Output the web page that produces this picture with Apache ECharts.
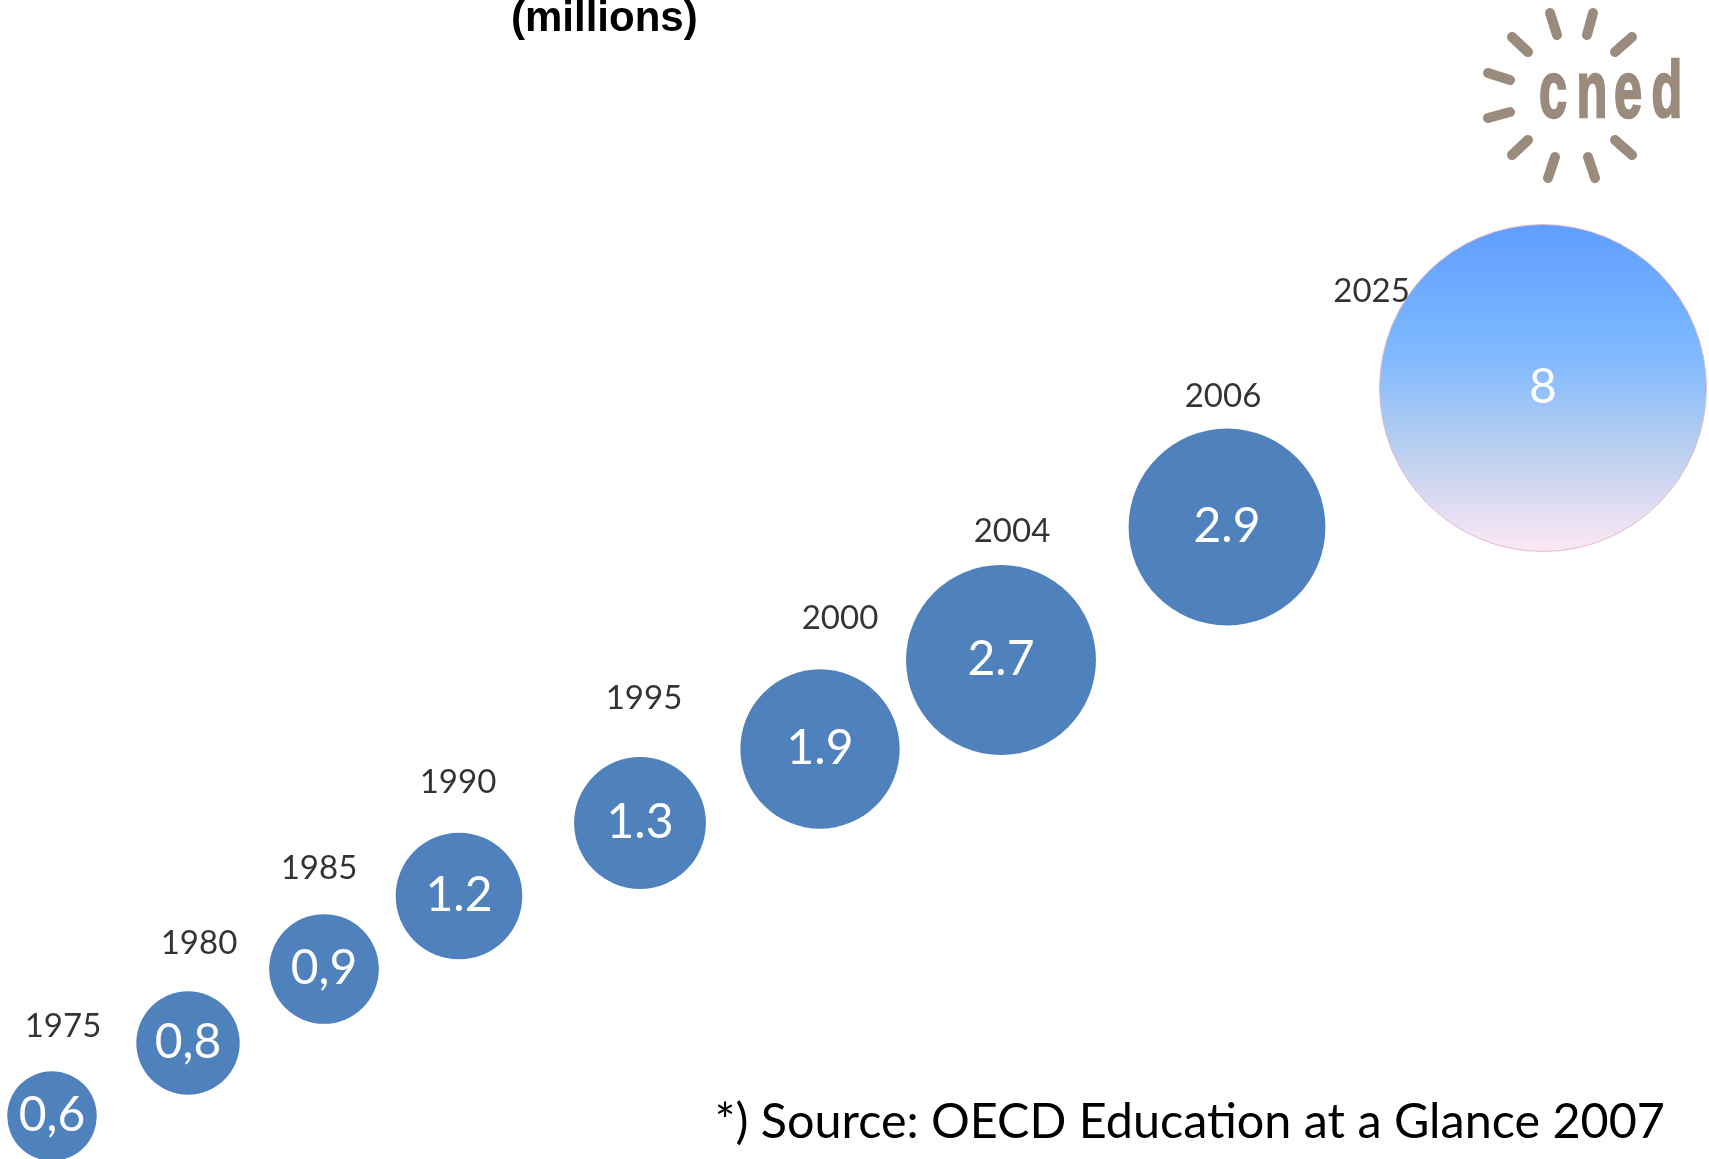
<!DOCTYPE html>
<html>
<head>
<meta charset="utf-8">
<script src="https://cdn.jsdelivr.net/npm/echarts@6/dist/echarts.min.js"></script>
<style>
html, body { margin: 0; padding: 0; background: #fff; }
#chart { width: 1709px; height: 1159px; }
</style>
</head>
<body>
<div id="chart"></div>
<script>
const years = ['1975', '1980', '1985', '1990', '1995', '2000', '2004', '2006', '2025'];
const values = [0.6, 0.8, 0.9, 1.2, 1.3, 1.9, 2.7, 2.9, 8];
const valueLabels = ['0,6', '0,8', '0,9', '1.2', '1.3', '1.9', '2.7', '2.9', '8'];
// staircase layout (axis units = picture pixels)
const stepX = [52, 188, 324, 459, 640, 820, 1001, 1227, 1543];
const stepY = [1116, 1043, 969, 896, 823, 749, 660, 527, 388];
// small nudges of the year captions
const yearShift = [[11, -2], [11, -5], [-5, -3], [-1, -8], [4, -16], [20, -8], [11, 9], [-4, 10], [0, 0]];

const calibri = 'Lato, "Open Sans", sans-serif';
const blue = '#4f81bd';
const logoColor = '#9a8b7c';

// bubble area proportional to the value
function bubbleSize(v) {
    return 115.6 * Math.sqrt(v[2]);
}

const bubbleData = values.map((v, i) => {
    const item = { value: [stepX[i], stepY[i], v] };
    if (i === values.length - 1) {
        item.itemStyle = {
            color: {
                type: 'linear', x: 0, y: 0, x2: 0, y2: 1,
                colorStops: [
                    { offset: 0, color: '#5f9eff' },
                    { offset: 0.4, color: '#7fb9ff' },
                    { offset: 0.7, color: '#bcd0ee' },
                    { offset: 1, color: '#fde8f4' }
                ]
            },
            borderColor: '#e6b9cc',
            borderWidth: 1
        };
    }
    return item;
});

const yearData = values.map((v, i) => {
    const item = { value: [stepX[i], stepY[i], v], label: { offset: yearShift[i] } };
    if (i === values.length - 1) {
        item.label = { position: [-8, 67], align: 'center', verticalAlign: 'middle' };
    }
    return item;
});

// logo
const rays = [
    [1550, 13, 1557, 35], [1593, 13, 1587, 35],
    [1512, 37, 1528, 52], [1632, 37, 1615, 52],
    [1488, 73, 1510, 80], [1488, 118, 1510, 112],
    [1512, 155, 1528, 140], [1632, 155, 1615, 140],
    [1548, 178, 1555, 157], [1595, 178, 1588, 157]
];
const logoLetters = [['c', 1553], ['n', 1592], ['e', 1628], ['d', 1667]];

const chart = echarts.init(document.getElementById('chart'));
chart.setOption({
    backgroundColor: '#fff',
    animation: false,
    title: [
        {
            text: '(millions)',
            left: 511,
            top: -2,
            padding: 0,
            textStyle: {
                fontFamily: '"Liberation Sans", Arial, sans-serif',
                fontWeight: 'bold',
                fontSize: 42,
                color: '#000'
            }
        },
        {
            text: '*) Source: OECD Education at a Glance 2007',
            right: 44,
            top: 1098,
            padding: 0,
            textStyle: {
                fontFamily: calibri,
                fontWeight: 'normal',
                fontSize: 48.5,
                color: '#000'
            }
        }
    ],
    grid: { left: 0, right: 0, top: 0, bottom: 0 },
    xAxis: { type: 'value', min: 0, max: 1709, show: false },
    yAxis: { type: 'value', min: 0, max: 1159, inverse: true, show: false },
    graphic: [
        ...rays.map(r => ({
            type: 'line',
            shape: { x1: r[0], y1: r[1], x2: r[2], y2: r[3] },
            style: { stroke: logoColor, lineWidth: 10, lineCap: 'round' }
        })),
        ...logoLetters.map(l => ({
            type: 'text',
            x: l[1],
            y: 95,
            scaleX: 0.63,
            style: {
                text: l[0],
                fill: logoColor,
                stroke: logoColor,
                lineWidth: 2.5,
                font: 'bold 80px "Liberation Sans", Arial, sans-serif',
                align: 'center',
                verticalAlign: 'middle'
            }
        }))
    ],
    series: [
        {
            type: 'scatter',
            data: bubbleData,
            symbolSize: bubbleSize,
            itemStyle: { color: blue, opacity: 1 },
            label: {
                show: true,
                position: 'inside',
                formatter: p => valueLabels[p.dataIndex],
                color: '#fff',
                fontFamily: calibri,
                fontSize: 48
            },
            emphasis: { disabled: true }
        },
        {
            type: 'scatter',
            data: yearData,
            symbolSize: bubbleSize,
            itemStyle: { color: 'rgba(0,0,0,0)' },
            label: {
                show: true,
                position: 'top',
                distance: 26,
                formatter: p => years[p.dataIndex],
                color: '#000',
                fontFamily: calibri,
                fontSize: 33
            },
            emphasis: { disabled: true },
            silent: true
        }
    ]
});
</script>
</body>
</html>
